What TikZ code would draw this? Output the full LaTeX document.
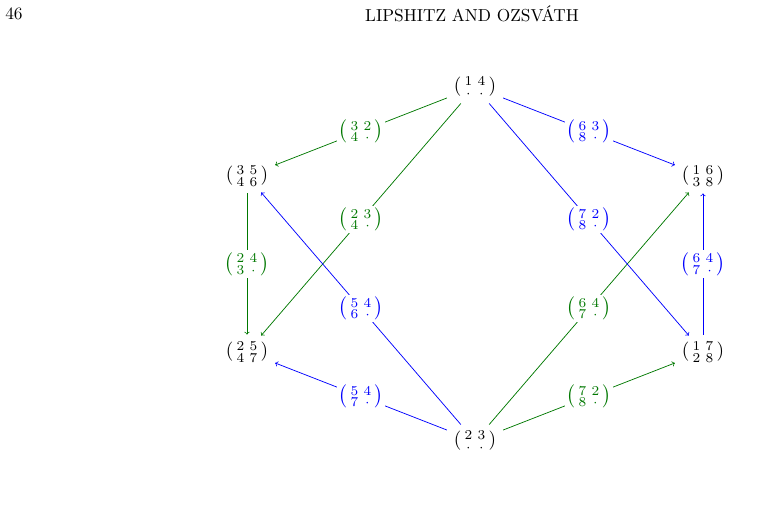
\documentclass[tikz,border=0pt]{standalone}
\usepackage{amsmath}
\usetikzlibrary{arrows,positioning}
\definecolor{dgreen}{RGB}{0,120,0}
\newcommand{\gen}[4]{\(\left(\begin{smallmatrix}#1&#2\\#3&#4\end{smallmatrix}\right)\)}
\newcommand{\lab}[4]{\(\bigl(\begin{smallmatrix}#1&#2\\#3&#4\end{smallmatrix}\bigr)\)}
\tikzset{
        vert/.style = {inner sep=1.5pt, scale=1.45},
        gline/.style = {draw=dgreen, ->, line width=0.55pt, shorten >=3pt, shorten <=3pt},
        bline/.style = {draw=blue, ->, line width=0.55pt, shorten >=3pt, shorten <=3pt},
        elab/.style = {midway, fill=white, inner sep=1pt, scale=1.45},
    }
\begin{document}
\begin{tikzpicture}[x=0.75pt,y=-0.75pt]
    \useasboundingbox (0,0) rectangle (778,514);
    \node[scale=1.3] (pg) at (14,14) {46};
    \node[scale=1.3] (hd) at (472,14) {LIPSHITZ AND OZSV\'ATH};

    \node[vert] (t) at (475,87) {\gen{1}{4}{\cdot}{\cdot}};
    \node[vert] (l1) at (247,176) {\gen{3}{5}{4}{6}};
    \node[vert] (l2) at (247,352) {\gen{2}{5}{4}{7}};
    \node[vert] (b) at (475,441) {\gen{2}{3}{\cdot}{\cdot}};
    \node[vert] (r1) at (703,176) {\gen{1}{6}{3}{8}};
    \node[vert] (r2) at (703,352) {\gen{1}{7}{2}{8}};

    % green differentials
    \draw[gline] (t) -- (l1) node[elab,text=dgreen] {\lab{3}{2}{4}{\cdot}};
    \draw[gline] (t) -- (l2) node[elab,text=dgreen] {\lab{2}{3}{4}{\cdot}};
    \draw[gline] (l1) -- (l2) node[elab,text=dgreen] {\lab{2}{4}{3}{\cdot}};
    \draw[gline] (b) -- (r1) node[elab,text=dgreen] {\lab{6}{4}{7}{\cdot}};
    \draw[gline] (b) -- (r2) node[elab,text=dgreen] {\lab{7}{2}{8}{\cdot}};
    % blue differentials
    \draw[bline] (b) -- (l1) node[elab,text=blue] {\lab{5}{4}{6}{\cdot}};
    \draw[bline] (b) -- (l2) node[elab,text=blue] {\lab{5}{4}{7}{\cdot}};
    \draw[bline] (t) -- (r1) node[elab,text=blue] {\lab{6}{3}{8}{\cdot}};
    \draw[bline] (t) -- (r2) node[elab,text=blue] {\lab{7}{2}{8}{\cdot}};
    \draw[bline] (r2) -- (r1) node[elab,text=blue] {\lab{6}{4}{7}{\cdot}};
\end{tikzpicture}
\end{document}
